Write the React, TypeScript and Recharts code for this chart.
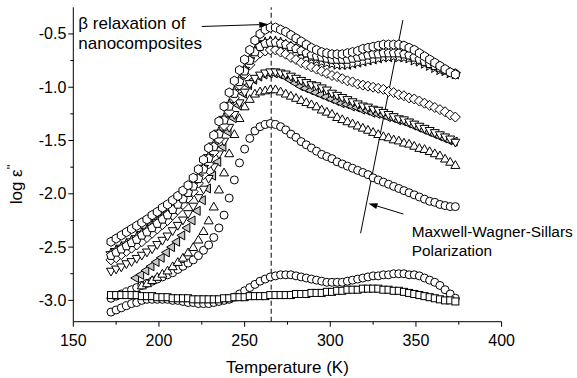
import React from "react";
import { ScatterChart, Scatter, XAxis, YAxis, ReferenceLine, ReferenceDot } from "recharts";

const FONT = "'Liberation Sans', Arial, sans-serif";

// temperature (K) of every measured point
const TEMPS = [
  172, 175, 178, 181, 184, 187, 190, 193, 196, 199,
  202, 205, 208, 211, 214, 217, 220, 223, 226, 229,
  232, 235, 238, 241, 244, 247, 250, 253, 256, 259,
  262, 265, 268, 271, 274, 277, 280, 283, 286, 289,
  292, 295, 298, 301, 304, 307, 310, 313, 316, 319,
  322, 325, 328, 331, 334, 337, 340, 343, 346, 349,
  352, 355, 358, 361, 364, 367, 370, 373,
];

// log eps'' per sample
const HEX = [
  -2.45, -2.42, -2.39, -2.36, -2.33, -2.30, -2.27, -2.24, -2.20, -2.17,
  -2.13, -2.10, -2.06, -2.02, -1.97, -1.92, -1.85, -1.77, -1.68, -1.57,
  -1.45, -1.32, -1.18, -1.05, -0.94, -0.84, -0.74, -0.65, -0.56, -0.50,
  -0.46, -0.44, -0.44, -0.46, -0.48, -0.51, -0.54, -0.57, -0.60, -0.63,
  -0.65, -0.67, -0.68, -0.69, -0.69, -0.69, -0.68, -0.67, -0.66, -0.64,
  -0.63, -0.62, -0.61, -0.60, -0.60, -0.60, -0.60, -0.61, -0.63, -0.65,
  -0.68, -0.71, -0.74, -0.77, -0.80, -0.83, -0.86, -0.88,
];
const PENT = [
  -2.58, -2.55, -2.52, -2.49, -2.46, -2.43, -2.39, -2.36, -2.32, -2.28,
  -2.24, -2.20, -2.15, -2.10, -2.05, -1.99, -1.93, -1.86, -1.77, -1.67,
  -1.56, -1.44, -1.31, -1.18, -1.06, -0.95, -0.85, -0.75, -0.67, -0.62,
  -0.59, -0.58, -0.58, -0.59, -0.60, -0.62, -0.64, -0.66, -0.68, -0.70,
  -0.71, -0.72, -0.73, -0.74, -0.74, -0.74, -0.74, -0.73, -0.72, -0.71,
  -0.70, -0.69, -0.69, -0.68, -0.68, -0.68, -0.68, -0.69, -0.70, -0.72,
  -0.74, -0.76, -0.78, -0.80, -0.82, -0.84, -0.86, -0.87,
];
const STAR = [
  -2.56, -2.53, -2.50, -2.47, -2.44, -2.41, -2.37, -2.34, -2.30, -2.26,
  -2.22, -2.18, -2.13, -2.08, -2.03, -1.97, -1.91, -1.84, -1.75, -1.65,
  -1.54, -1.42, -1.29, -1.16, -1.04, -0.93, -0.83, -0.74, -0.66, -0.61,
  -0.58, -0.57, -0.57, -0.58, -0.60, -0.62, -0.64, -0.67, -0.69, -0.72,
  -0.74, -0.76, -0.77, -0.78, -0.79, -0.79, -0.79, -0.78, -0.77, -0.76,
  -0.75, -0.74, -0.73, -0.72, -0.72, -0.71, -0.72, -0.72, -0.73, -0.75,
  -0.76, -0.78, -0.80, -0.82, -0.84, -0.85, -0.87, -0.88,
];
const DIAM = [
  -2.62, -2.60, -2.57, -2.54, -2.51, -2.48, -2.45, -2.41, -2.37, -2.33,
  -2.29, -2.25, -2.20, -2.15, -2.10, -2.04, -1.98, -1.90, -1.82, -1.72,
  -1.61, -1.49, -1.36, -1.23, -1.10, -0.98, -0.88, -0.79, -0.72, -0.68,
  -0.66, -0.65, -0.65, -0.67, -0.69, -0.72, -0.74, -0.77, -0.79, -0.81,
  -0.83, -0.85, -0.87, -0.89, -0.90, -0.92, -0.94, -0.95, -0.97, -0.98,
  -0.99, -1.00, -1.01, -1.02, -1.04, -1.05, -1.07, -1.08, -1.10, -1.11,
  -1.13, -1.15, -1.17, -1.19, -1.21, -1.23, -1.26, -1.28,
];
const DTRI = [
  -2.73, -2.71, -2.69, -2.66, -2.64, -2.61, -2.58, -2.55, -2.52, -2.48,
  -2.44, -2.40, -2.35, -2.30, -2.25, -2.19, -2.12, -2.04, -1.96, -1.86,
  -1.75, -1.63, -1.51, -1.38, -1.26, -1.15, -1.05, -0.97, -0.92, -0.89,
  -0.87, -0.86, -0.86, -0.87, -0.88, -0.90, -0.92, -0.94, -0.96, -0.98,
  -0.99, -1.01, -1.03, -1.06, -1.08, -1.10, -1.12, -1.14, -1.16, -1.18,
  -1.19, -1.21, -1.22, -1.24, -1.26, -1.28, -1.30, -1.31, -1.33, -1.35,
  -1.37, -1.39, -1.41, -1.43, -1.45, -1.47, -1.49, -1.52,
];
const LTRI = [
  null, null, null, null, null, -2.79, -2.76, -2.72, -2.68, -2.64,
  -2.60, -2.55, -2.50, -2.45, -2.39, -2.32, -2.25, -2.16, -2.06, -1.95,
  -1.83, -1.70, -1.56, -1.42, -1.29, -1.17, -1.06, -0.98, -0.93, -0.90,
  -0.88, -0.87, -0.87, -0.88, -0.90, -0.93, -0.96, -0.99, -1.01, -1.03,
  -1.05, -1.07, -1.09, -1.11, -1.13, -1.15, -1.16, -1.18, -1.19, -1.21,
  -1.22, -1.24, -1.25, -1.26, -1.28, -1.29, -1.31, -1.32, -1.34, -1.36,
  -1.38, -1.40, -1.42, -1.44, -1.46, -1.48, -1.50, -1.51,
];
const UTRI = [
  null, null, null, null, null, null, -2.86, -2.84, -2.81, -2.78,
  -2.75, -2.72, -2.68, -2.64, -2.60, -2.55, -2.50, -2.43, -2.35, -2.25,
  -2.12, -1.96, -1.80, -1.62, -1.44, -1.29, -1.18, -1.11, -1.06, -1.04,
  -1.03, -1.02, -1.02, -1.04, -1.06, -1.08, -1.10, -1.12, -1.14, -1.16,
  -1.18, -1.21, -1.23, -1.25, -1.28, -1.30, -1.32, -1.34, -1.36, -1.38,
  -1.40, -1.42, -1.44, -1.46, -1.47, -1.49, -1.50, -1.52, -1.53, -1.55,
  -1.57, -1.58, -1.60, -1.62, -1.64, -1.67, -1.70, -1.73,
];
const CIRC1 = [
  -2.98, -2.96, -2.94, -2.92, -2.90, -2.88, -2.86, -2.84, -2.82, -2.80,
  -2.78, -2.76, -2.74, -2.71, -2.68, -2.65, -2.62, -2.58, -2.53, -2.48,
  -2.41, -2.32, -2.20, -2.04, -1.87, -1.71, -1.58, -1.48, -1.41, -1.37,
  -1.35, -1.34, -1.35, -1.37, -1.40, -1.44, -1.47, -1.51, -1.54, -1.57,
  -1.60, -1.63, -1.65, -1.67, -1.70, -1.72, -1.74, -1.76, -1.78, -1.80,
  -1.82, -1.85, -1.87, -1.89, -1.91, -1.93, -1.95, -1.97, -1.99, -2.01,
  -2.03, -2.05, -2.07, -2.08, -2.10, -2.11, -2.12, -2.12,
];
const CIRC2 = [
  -3.11, -3.09, -3.07, -3.05, -3.03, -3.02, -3.00, -2.99, -2.99, -2.99,
  -2.99, -2.99, -3.00, -3.00, -3.01, -3.02, -3.02, -3.03, -3.03, -3.03,
  -3.02, -3.01, -3.00, -2.99, -2.97, -2.94, -2.91, -2.88, -2.85, -2.82,
  -2.80, -2.78, -2.77, -2.76, -2.76, -2.76, -2.77, -2.78, -2.79, -2.80,
  -2.81, -2.82, -2.83, -2.83, -2.83, -2.83, -2.82, -2.81, -2.80, -2.79,
  -2.78, -2.77, -2.77, -2.76, -2.76, -2.75, -2.75, -2.75, -2.76, -2.76,
  -2.77, -2.79, -2.81, -2.83, -2.86, -2.90, -2.94, -2.98,
];
const SQR = [
  -2.95, -2.95, -2.95, -2.95, -2.95, -2.95, -2.96, -2.96, -2.96, -2.97,
  -2.97, -2.97, -2.98, -2.98, -2.98, -2.98, -2.99, -2.99, -2.99, -2.99,
  -2.99, -2.99, -2.98, -2.98, -2.97, -2.97, -2.97, -2.96, -2.96, -2.96,
  -2.96, -2.95, -2.95, -2.95, -2.95, -2.95, -2.94, -2.94, -2.94, -2.93,
  -2.93, -2.93, -2.92, -2.92, -2.91, -2.91, -2.90, -2.90, -2.90, -2.89,
  -2.89, -2.89, -2.89, -2.90, -2.90, -2.91, -2.91, -2.92, -2.93, -2.94,
  -2.95, -2.96, -2.97, -2.98, -2.99, -3.00, -3.00, -3.01,
];

const X_TICKS = [150, 175, 200, 225, 250, 275, 300, 325, 350, 375, 400];
const Y_TICKS = [-3, -2.75, -2.5, -2.25, -2, -1.75, -1.5, -1.25, -1, -0.75, -0.5];
const PEAK_T = 265.5;

const pts = (vals: (number | null)[]) =>
  TEMPS.map((x, i) => ({ x, y: vals[i] })).filter((p) => p.y != null);

const poly = (cx: number, cy: number, n: number, r: number, rot = -Math.PI / 2) =>
  Array.from({ length: n }, (_, k) => {
    const a = rot + (k * 2 * Math.PI) / n;
    return `${cx + r * Math.cos(a)},${cy + r * Math.sin(a)}`;
  }).join(" ");

const starPts = (cx: number, cy: number, ro: number, ri: number) =>
  Array.from({ length: 10 }, (_, k) => {
    const a = -Math.PI / 2 + (k * Math.PI) / 5;
    const r = k % 2 ? ri : ro;
    return `${cx + r * Math.cos(a)},${cy + r * Math.sin(a)}`;
  }).join(" ");

function Marker({ kind, cx, cy, fill = "#fff", stroke = "#000" }: any) {
  const s = { fill, stroke, strokeWidth: 1 };
  switch (kind) {
    case "circle":
      return <circle cx={cx} cy={cy} r={4} {...s} />;
    case "square":
      return <rect x={cx - 3.5} y={cy - 3.5} width={7} height={7} {...s} />;
    case "up":
      return <polygon points={poly(cx, cy + 0.8, 3, 5.2)} {...s} />;
    case "down":
      return <polygon points={poly(cx, cy - 0.8, 3, 5.2, Math.PI / 2)} {...s} />;
    case "left":
      return <polygon points={poly(cx - 0.8, cy, 3, 5.2, Math.PI)} {...s} />;
    case "diamond":
      return <polygon points={poly(cx, cy, 4, 5)} {...s} />;
    case "hex":
      return <polygon points={poly(cx, cy, 6, 4.6)} {...s} />;
    case "pent":
      return <polygon points={poly(cx, cy, 5, 4.6)} {...s} />;
    default:
      return <polygon points={starPts(cx, cy, 5.5, 2.4)} {...s} />;
  }
}

const shapeOf = (kind: string, fill?: string) => (p: any) =>
  <Marker kind={kind} cx={p.cx} cy={p.cy} fill={fill} />;

const BottomTick = (p: any) => {
  const v = p.payload.value;
  const major = v % 50 === 0;
  return (
    <g>
      <line x1={p.x} y1={p.y} x2={p.x} y2={p.y + (major ? 5 : 3)} stroke="#000" />
      {major && (
        <text x={p.x} y={p.y + 24} textAnchor="middle" fontSize={16} fontFamily={FONT} fill="#000">
          {v}
        </text>
      )}
    </g>
  );
};

const LeftTick = (p: any) => {
  const v = p.payload.value;
  const major = Math.abs(v * 2 - Math.round(v * 2)) < 1e-6;
  return (
    <g>
      <line x1={p.x} y1={p.y} x2={p.x - (major ? 5 : 3)} y2={p.y} stroke="#000" />
      {major && (
        <text x={p.x - 7} y={p.y + 5.5} textAnchor="end" fontSize={16} fontFamily={FONT} fill="#000">
          {v.toFixed(1)}
        </text>
      )}
    </g>
  );
};

const TopTick = (p: any) => {
  const major = p.payload.value % 50 === 0;
  return <line x1={p.x} y1={p.y} x2={p.x} y2={p.y + (major ? 5 : 3)} stroke="#000" />;
};

const RightTick = (p: any) => {
  const v = p.payload.value;
  const major = Math.abs(v * 2 - Math.round(v * 2)) < 1e-6;
  return <line x1={p.x} y1={p.y} x2={p.x - (major ? 5 : 3)} y2={p.y} stroke="#000" />;
};

const arrow = (head: boolean) => (p: any) => {
  const { x1, y1, x2, y2 } = p;
  if (!head) return <line x1={x1} y1={y1} x2={x2} y2={y2} stroke="#000" strokeWidth={1} />;
  const a = Math.atan2(y2 - y1, x2 - x1);
  const L = 9;
  const W = 3;
  const bx = x2 - L * Math.cos(a);
  const by = y2 - L * Math.sin(a);
  return (
    <g>
      <line x1={x1} y1={y1} x2={bx} y2={by} stroke="#000" strokeWidth={1} />
      <polygon
        points={`${x2},${y2} ${bx + W * Math.sin(a)},${by - W * Math.cos(a)} ${bx - W * Math.sin(a)},${by + W * Math.cos(a)}`}
        fill="#000"
      />
    </g>
  );
};

const textStyle = { fontSize: 16, fontFamily: FONT, fill: "#000" };

const BetaNote = (p: any) => (
  <g>
    <text x={p.cx} y={p.cy} {...textStyle} fontSize={17}>β relaxation of</text>
    <text x={p.cx} y={p.cy + 20} {...textStyle} fontSize={17}>nanocomposites</text>
  </g>
);

const MwsNote = (p: any) => (
  <g>
    <rect x={p.cx - 4} y={p.cy - 25} width={175} height={52} fill="#fff" />
    <text x={p.cx} y={p.cy} {...textStyle} fontSize={15.4}>Maxwell-Wagner-Sillars</text>
    <text x={p.cx} y={p.cy + 19} {...textStyle} fontSize={15.4}>Polarization</text>
  </g>
);

export default function App() {
  const series: [string, (number | null)[], string?][] = [
    ["circle", CIRC2],
    ["circle", CIRC1],
    ["square", SQR],
    ["up", UTRI],
    ["left", LTRI, "#c8c8c8"],
    ["down", DTRI],
    ["diamond", DIAM],
    ["star", STAR],
    ["pent", PENT],
    ["hex", HEX],
  ];
  return (
    <div style={{ position: "absolute", left: 0, top: 0, width: 577, height: 378, background: "#fff" }}>
      <ScatterChart width={577} height={378} margin={{ top: 7.3, right: 75.4, bottom: 0, left: 0 }}>
        <XAxis
          xAxisId="b"
          type="number"
          dataKey="x"
          domain={[150, 400]}
          allowDataOverflow
          ticks={X_TICKS}
          interval={0}
          tick={BottomTick}
          tickLine={false}
          tickSize={0}
          tickMargin={0}
          height={56.3}
          axisLine={{ stroke: "#000" }}
          label={{
            content: (p: any) => {
              const vb = p.viewBox;
              return (
                <text x={vb.x + vb.width / 2} y={vb.y + 51} textAnchor="middle" {...textStyle} fontSize={17}>
                  Temperature (K)
                </text>
              );
            },
          }}
        />
        <XAxis
          xAxisId="t"
          orientation="top"
          type="number"
          domain={[150, 400]}
          allowDataOverflow
          ticks={X_TICKS}
          interval={0}
          tick={TopTick}
          tickLine={false}
          tickSize={0}
          tickMargin={0}
          height={0}
          axisLine={{ stroke: "#000" }}
        />
        <YAxis
          yAxisId="l"
          type="number"
          dataKey="y"
          domain={[-3.2, -0.25]}
          allowDataOverflow
          ticks={Y_TICKS}
          interval={0}
          tick={LeftTick}
          tickLine={false}
          tickSize={0}
          tickMargin={0}
          width={73.3}
          axisLine={{ stroke: "#000" }}
          label={{
            content: (p: any) => {
              const vb = p.viewBox;
              const cy = vb.y + vb.height / 2 + 20;
              return (
                <text transform={`translate(22, ${cy}) rotate(-90)`} textAnchor="middle" {...textStyle} fontSize={17}>
                  log ε<tspan dy={-6} fontSize={13}>"</tspan>
                </text>
              );
            },
          }}
        />
        <YAxis
          yAxisId="r"
          orientation="right"
          type="number"
          domain={[-3.2, -0.25]}
          allowDataOverflow
          ticks={Y_TICKS}
          interval={0}
          tick={RightTick}
          tickLine={false}
          tickSize={0}
          tickMargin={0}
          width={0}
          axisLine={{ stroke: "#000" }}
        />

        <ReferenceLine
          xAxisId="b"
          yAxisId="l"
          x={PEAK_T}
          stroke="#000"
          strokeDasharray="5 3"
        />

        {series.map(([kind, vals, fill], i) => (
          <Scatter
            key={i}
            xAxisId="b"
            yAxisId="l"
            data={pts(vals)}
            shape={shapeOf(kind, fill)}
            isAnimationActive={false}
          />
        ))}

        <ReferenceLine
          xAxisId="b"
          yAxisId="l"
          segment={[{ x: 225, y: -0.43 }, { x: 263.8, y: -0.41 }]}
          ifOverflow="visible"
          shape={arrow(true)}
        />
        <ReferenceLine
          xAxisId="b"
          yAxisId="l"
          segment={[{ x: 342.4, y: -0.37 }, { x: 317.7, y: -2.37 }]}
          ifOverflow="visible"
          shape={arrow(false)}
        />
        <ReferenceLine
          xAxisId="b"
          yAxisId="l"
          segment={[{ x: 342.7, y: -2.19 }, { x: 322.3, y: -2.09 }]}
          ifOverflow="visible"
          shape={arrow(true)}
        />
        <ReferenceDot xAxisId="b" yAxisId="l" x={152.9} y={-0.453} ifOverflow="visible" shape={BetaNote} />
        <ReferenceDot xAxisId="b" yAxisId="l" x={347.5} y={-2.408} ifOverflow="visible" shape={MwsNote} />
      </ScatterChart>
    </div>
  );
}
